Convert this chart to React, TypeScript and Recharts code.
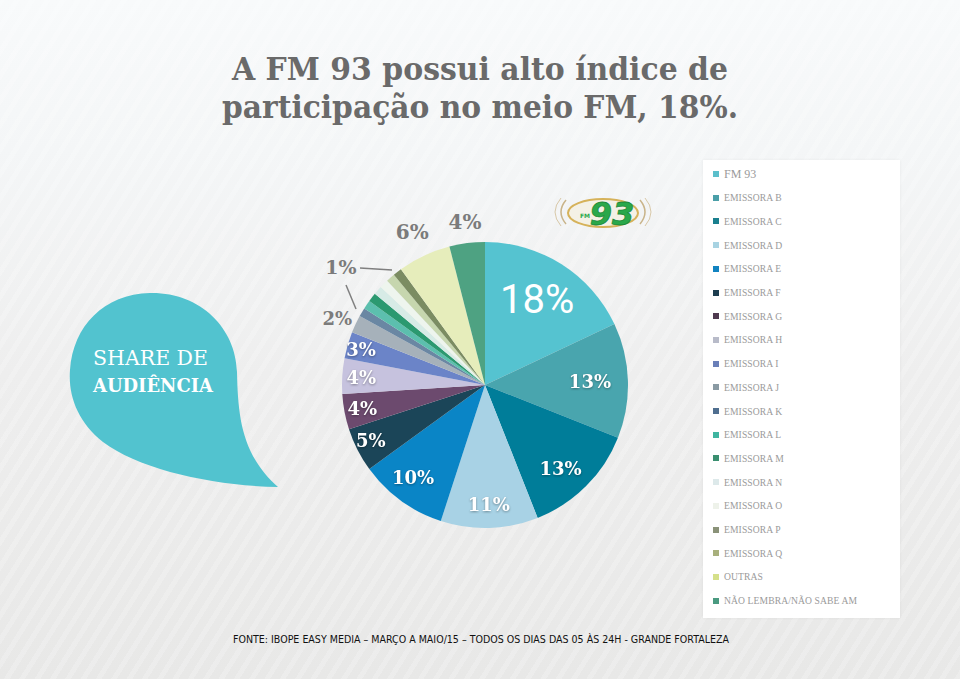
import React from 'react';
import { PieChart, Pie, Cell, Legend } from 'recharts';

const stations = [
  'FM 93', 'EMISSORA B', 'EMISSORA C', 'EMISSORA D', 'EMISSORA E', 'EMISSORA F',
  'EMISSORA G', 'EMISSORA H', 'EMISSORA I', 'EMISSORA J', 'EMISSORA K', 'EMISSORA L',
  'EMISSORA M', 'EMISSORA N', 'EMISSORA O', 'EMISSORA P', 'EMISSORA Q', 'OUTRAS',
  'NÃO LEMBRA/NÃO SABE AM',
];
const shares = [18, 13, 13, 11, 10, 5, 4, 4, 3, 2, 1, 1, 1, 1, 1, 1, 1, 6, 4];
const sliceColors = [
  '#55c3d0', '#49a5ae', '#007d99', '#a8d2e5', '#0a85c6', '#1b4558',
  '#6c4a6e', '#c6c2de', '#6b84c8', '#a6b1ba', '#6a87a3', '#5cbfae',
  '#2b9970', '#d7ebe6', '#eef5ee', '#c6d6ae', '#7b8c62', '#e6edbb', '#4ea282',
];
const legendColors = [
  '#5bbfcb', '#4a9fa8', '#1a7f8e', '#a8d3e2', '#1283c0', '#1d3d4f',
  '#4f3a4f', '#b8bbc9', '#6a7fb8', '#8a9aa3', '#4f6e8f', '#3fb5a0',
  '#3a8f70', '#dde9ea', '#eef2ea', '#8a9278', '#a8b07c', '#d5e08a', '#4a9a80',
];
const titleLines = ['A FM 93 possui alto índice de', 'participação no meio FM, 18%.'];
const footnote = 'FONTE: IBOPE EASY MEDIA – MARÇO A MAIO/15 – TODOS OS DIAS DAS 05 ÀS 24H - GRANDE FORTALEZA';

const data = stations.map((name, i) => ({ name, value: shares[i] }));

type LabelStyle = { r: number; dA: number; size: number; fill: string; font: string; weight: number };
const WHITE = '#ffffff';
const GRAY = '#7b7b7b';
const SERIF = '"DejaVu Serif", serif';
const labelStyles: Record<number, LabelStyle> = {
  0: { r: 100, dA: 1, size: 40, fill: WHITE, font: 'Roboto, sans-serif', weight: 400 },
  1: { r: 105, dA: 0, size: 18, fill: WHITE, font: SERIF, weight: 700 },
  2: { r: 113, dA: -3, size: 18, fill: WHITE, font: SERIF, weight: 700 },
  3: { r: 120, dA: 0, size: 18, fill: WHITE, font: SERIF, weight: 700 },
  4: { r: 117, dA: -2, size: 18, fill: WHITE, font: SERIF, weight: 700 },
  5: { r: 127, dA: -1, size: 18, fill: WHITE, font: SERIF, weight: 700 },
  6: { r: 125, dA: 0, size: 18, fill: WHITE, font: SERIF, weight: 700 },
  7: { r: 124, dA: 0, size: 18, fill: WHITE, font: SERIF, weight: 700 },
  8: { r: 129, dA: 0, size: 18, fill: WHITE, font: SERIF, weight: 700 },
  9: { r: 162, dA: 1, size: 18, fill: GRAY, font: SERIF, weight: 700 },
  16: { r: 186, dA: 13, size: 19, fill: GRAY, font: SERIF, weight: 700 },
  17: { r: 169, dA: 0.3, size: 20, fill: GRAY, font: SERIF, weight: 700 },
  18: { r: 164, dA: -0.2, size: 20, fill: GRAY, font: SERIF, weight: 700 },
};

const renderLabel = (props: any) => {
  const { cx, cy, midAngle, index, value } = props;
  const s = labelStyles[index];
  if (!s) return null;
  const a = ((midAngle + s.dA) * Math.PI) / 180;
  const x = cx + s.r * Math.cos(a);
  const y = cy - s.r * Math.sin(a);
  const shadow = s.fill === WHITE && index > 0 ? 'drop-shadow(0px 1px 1px rgba(0,0,0,0.35))' : undefined;
  return (
    <text
      x={x}
      y={y}
      textAnchor="middle"
      dominantBaseline="central"
      fill={s.fill}
      fontSize={s.size}
      fontFamily={s.font}
      fontWeight={s.weight}
      style={{ filter: shadow }}
    >
      {`${value}%`}
    </text>
  );
};

const renderLegend = () => (
  <div
    style={{
      width: 197,
      height: 458,
      background: '#ffffff',
      position: 'relative',
      boxShadow: '0 0 3px rgba(0,0,0,0.06)',
    }}
  >
    {stations.map((s, i) => {
      const yc = 14 + i * 23.7;
      const first = i === 0;
      return (
        <div key={s} style={{ position: 'absolute', left: 10, top: yc - 8, height: 16, display: 'flex', alignItems: 'center' }}>
          <span style={{ display: 'inline-block', width: 6, height: 6, background: legendColors[i], marginRight: 5 }} />
          <span
            style={{
              fontFamily: '"Liberation Serif", serif',
              fontSize: first ? 12 : 9.6,
              color: '#9a9a9a',
              whiteSpace: 'nowrap',
              letterSpacing: first ? 0 : 0.1,
            }}
          >
            {s}
          </span>
        </div>
      );
    })}
  </div>
);

export default function App() {
  return (
    <div
      style={{
        position: 'absolute',
        left: 0,
        top: 0,
        width: 960,
        height: 679,
        overflow: 'hidden',
        background:
          'repeating-linear-gradient(-58deg, rgba(255,255,255,0.2) 0px, rgba(255,255,255,0.2) 5px, rgba(255,255,255,0) 5px, rgba(255,255,255,0) 13px), linear-gradient(180deg, #f8fafb 0%, #f4f6f7 22%, #eeeeee 55%, #e8e8e7 100%)',
      }}
    >
      <svg width={960} height={679} style={{ position: 'absolute', left: 0, top: 0 }}>
        {titleLines.map((t, i) => (
          <text
            key={t}
            x={i === 0 ? 232 : 222}
            y={i === 0 ? 80 : 118}
            textLength={i === 0 ? 496 : 516}
            lengthAdjust="spacingAndGlyphs"
            fill="#6a6a6a"
            fontFamily={SERIF}
            fontWeight={700}
            fontSize={32}
          >
            {t}
          </text>
        ))}
        <path
          d="M 150 293 C 200 292, 236 328, 237 372 C 238 418, 242 455, 278 487 C 215 486, 140 470, 103 442 C 78 422, 68 396, 70 370 C 73 326, 104 294, 150 293 Z"
          fill="#52c3cf"
        />
        <text x={93} y={365} textLength={115} lengthAdjust="spacingAndGlyphs" fill="#ffffff" fontFamily={SERIF} fontSize={21}>
          SHARE DE
        </text>
        <text x={93} y={392} textLength={120} lengthAdjust="spacingAndGlyphs" fill="#ffffff" fontFamily={SERIF} fontWeight={700} fontSize={19}>
          AUDIÊNCIA
        </text>
        <g>
          <path d="M 566 200 Q 556 212 566 224" stroke="#c9b48a" strokeWidth={1.5} fill="none" />
          <path d="M 561 198 Q 549 212 561 226" stroke="#d8c8a8" strokeWidth={1} fill="none" />
          <path d="M 640 200 Q 650 212 640 224" stroke="#c9b48a" strokeWidth={1.5} fill="none" />
          <path d="M 645 198 Q 657 212 645 226" stroke="#d8c8a8" strokeWidth={1} fill="none" />
          <ellipse cx={603} cy={213} rx={35} ry={14} fill="#f4f1e6" stroke="#d6b25a" strokeWidth={2} />
          <text x={612} y={225} textAnchor="middle" fill="#2aa84a" fontFamily='"DejaVu Sans", sans-serif' fontWeight={700} fontStyle="italic" fontSize={32} stroke="#1d8a3a" strokeWidth={0.8}>
            93
          </text>
          <text x={580} y={218} fill="#2aa84a" fontFamily='"DejaVu Sans", sans-serif' fontWeight={700} fontSize={6}>
            FM
          </text>
        </g>
        <line x1={360} y1={268} x2={392} y2={270} stroke="#7f7f7f" strokeWidth={1.5} />
        <line x1={346} y1={285} x2={356} y2={309} stroke="#7f7f7f" strokeWidth={1.5} />
        <text
          x={233}
          y={643}
          textLength={496}
          lengthAdjust="spacingAndGlyphs"
          fill="#111111"
          fontFamily='"DejaVu Sans", sans-serif'
          fontSize={11}
        >
          {footnote}
        </text>
      </svg>
      <div style={{ position: 'absolute', left: 0, top: 0 }}>
        <PieChart width={960} height={679} margin={{ top: 0, right: 0, bottom: 0, left: 0 }}>
          <Pie
            data={data}
            dataKey="value"
            nameKey="name"
            cx={485}
            cy={385}
            outerRadius={143}
            startAngle={90}
            endAngle={-270}
            stroke="none"
            label={renderLabel}
            labelLine={false}
            isAnimationActive={false}
          >
            {data.map((d, i) => (
              <Cell key={d.name} fill={sliceColors[i]} />
            ))}
          </Pie>
          <Legend
            content={renderLegend}
            layout="vertical"
            align="right"
            verticalAlign="top"
            wrapperStyle={{ position: 'absolute', left: 703, top: 160, width: 197, height: 458 }}
          />
        </PieChart>
      </div>
    </div>
  );
}
